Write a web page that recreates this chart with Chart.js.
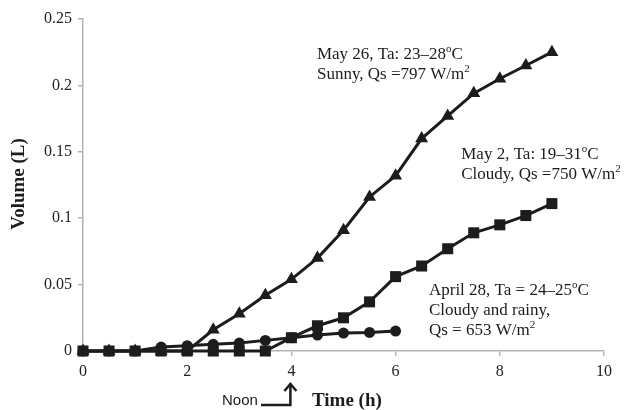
<!DOCTYPE html>
<html>
<head>
<meta charset="utf-8">
<script src="https://cdn.jsdelivr.net/npm/chart.js@4.4.1/dist/chart.umd.min.js"></script>
<style>
  html, body { margin: 0; padding: 0; background: #fff; }
  #wrap { width: 627px; height: 410px; position: relative; }
</style>
</head>
<body>
<div id="wrap"><canvas id="chart"></canvas></div>
<script>
// hours since start of measurement
const hours = [0, 0.5, 1, 1.5, 2, 2.5, 3, 3.5, 4, 4.5, 5, 5.5, 6, 6.5, 7, 7.5, 8, 8.5, 9];

// May 26 (sunny), triangles
const may26 = [0, 0, 0, 0, 0, 0.016, 0.028, 0.042, 0.054, 0.07, 0.091, 0.116, 0.132, 0.16, 0.177, 0.194, 0.205, 0.215, 0.225];
// May 2 (cloudy), squares
const may2 = [0, 0, 0, 0, 0, 0, 0, 0, 0.01, 0.019, 0.025, 0.037, 0.056, 0.064, 0.077, 0.089, 0.095, 0.102, 0.111];
// April 28 (cloudy and rainy), circles - stops at 6 h
const apr28 = [0, 0, 0, 0.003, 0.004, 0.005, 0.006, 0.008, 0.01, 0.012, 0.0135, 0.014, 0.015];

const xTicks = [0, 2, 4, 6, 8, 10];
const yTicks = [0, 0.05, 0.1, 0.15, 0.2, 0.25];
const yTickLabels = ['0', '0.05', '0.1', '0.15', '0.2', '0.25'];

const ink = '#1c1c1c';
const axisGray = '#b3b3b3';

const toPoints = (vals) => vals.map((v, i) => ({ x: hours[i], y: v }));

// text blocks next to the curves, anchored in data units
const notes = [
  { x: 4.49, y: 0.223, lines: [
    [['May 26, Ta: 23–28'], ['o', 1], ['C']],
    [['Sunny, Qs =797 W/m'], ['2', 1]]
  ]},
  { x: 7.26, y: 0.1476, lines: [
    [['May 2, Ta: 19–31'], ['o', 1], ['C']],
    [['Cloudy, Qs =750 W/m'], ['2', 1]]
  ]},
  { x: 6.64, y: 0.0452, lines: [
    [['April 28, Ta = 24–25'], ['o', 1], ['C']],
    [['Cloudy and rainy,']],
    [['Qs = 653 W/m'], ['2', 1]]
  ]}
];

function drawRich(ctx, parts, x, y) {
  let cx = x;
  parts.forEach(([t, sup]) => {
    ctx.font = sup ? '11px "Liberation Serif"' : '17px "Liberation Serif"';
    ctx.fillText(t, cx, sup ? y - 6 : y);
    cx += ctx.measureText(t).width;
  });
}

const extras = {
  id: 'extras',
  afterDraw(chart) {
    const ctx = chart.ctx;
    const xs = chart.scales.x, ys = chart.scales.y;
    ctx.save();
    ctx.fillStyle = ink;
    ctx.textBaseline = 'middle';
    ctx.textAlign = 'left';

    notes.forEach(n => {
      const px = xs.getPixelForValue(n.x);
      const py = ys.getPixelForValue(n.y);
      n.lines.forEach((ln, i) => drawRich(ctx, ln, px, py + i * 20));
    });

    // axis titles
    ctx.font = 'bold 19px "Liberation Serif"';
    ctx.fillText('Time (h)', 312, 401);
    ctx.save();
    ctx.translate(19, 184);
    ctx.rotate(-Math.PI / 2);
    ctx.textAlign = 'center';
    ctx.fillText('Volume (L)', 0, 0);
    ctx.restore();

    // noon marker pointing at 4 h
    const noonX = xs.getPixelForValue(4) - 1;
    ctx.font = '15px "Liberation Sans"';
    ctx.fillText('Noon', 222, 401);
    ctx.strokeStyle = ink;
    ctx.lineWidth = 2.5;
    ctx.beginPath();
    ctx.moveTo(261, 405);
    ctx.lineTo(noonX, 405);
    ctx.lineTo(noonX, 385);
    ctx.stroke();
    ctx.beginPath();
    ctx.moveTo(noonX - 6, 391);
    ctx.lineTo(noonX, 384);
    ctx.lineTo(noonX + 6, 391);
    ctx.stroke();
    ctx.restore();
  }
};

const noPad = (scale) => {
  scale.paddingTop = 0; scale.paddingBottom = 0;
  scale.paddingLeft = 0; scale.paddingRight = 0;
};

const tickFont = { family: 'Liberation Serif', size: 16 };

new Chart(document.getElementById('chart'), {
  type: 'line',
  data: {
    datasets: [
      { label: 'April 28', data: toPoints(apr28), pointStyle: 'circle', pointRadius: 5.5 },
      { label: 'May 26', data: toPoints(may26), pointStyle: 'triangle', pointRadius: 7.5 },
      { label: 'May 2', data: toPoints(may2), pointStyle: 'rect', pointRadius: 7.8 }
    ].map(d => Object.assign(d, {
      borderColor: ink,
      backgroundColor: ink,
      pointBackgroundColor: ink,
      pointBorderColor: ink,
      pointBorderWidth: 0,
      borderWidth: 3,
      tension: 0,
      clip: false
    }))
  },
  options: {
    responsive: true,
    maintainAspectRatio: false,
    animation: false,
    layout: { padding: { top: 19, right: 23, left: 0, bottom: 0 } },
    plugins: { legend: { display: false }, tooltip: { enabled: false } },
    scales: {
      x: {
        type: 'linear',
        min: 0,
        max: 10,
        afterFit: (s) => { s.height = 59; noPad(s); },
        afterBuildTicks: (s) => { s.ticks = xTicks.map(v => ({ value: v })); },
        ticks: { font: tickFont, color: '#222', padding: 6, maxRotation: 0 },
        grid: { display: true, drawOnChartArea: false, drawTicks: true, tickLength: 5, color: axisGray, lineWidth: 1.5 },
        border: { display: true, color: axisGray, width: 1.5 }
      },
      y: {
        min: 0,
        max: 0.25,
        afterFit: (s) => { s.width = 83; noPad(s); },
        afterBuildTicks: (s) => { s.ticks = yTicks.map(v => ({ value: v })); },
        ticks: {
          font: tickFont, color: '#222', padding: 6,
          callback: (v) => yTickLabels[yTicks.findIndex(t => Math.abs(t - v) < 1e-9)]
        },
        grid: { display: true, drawOnChartArea: false, drawTicks: true, tickLength: 5, color: axisGray, lineWidth: 1.5 },
        border: { display: true, color: axisGray, width: 1.5 }
      }
    }
  },
  plugins: [extras]
});
</script>
</body>
</html>
